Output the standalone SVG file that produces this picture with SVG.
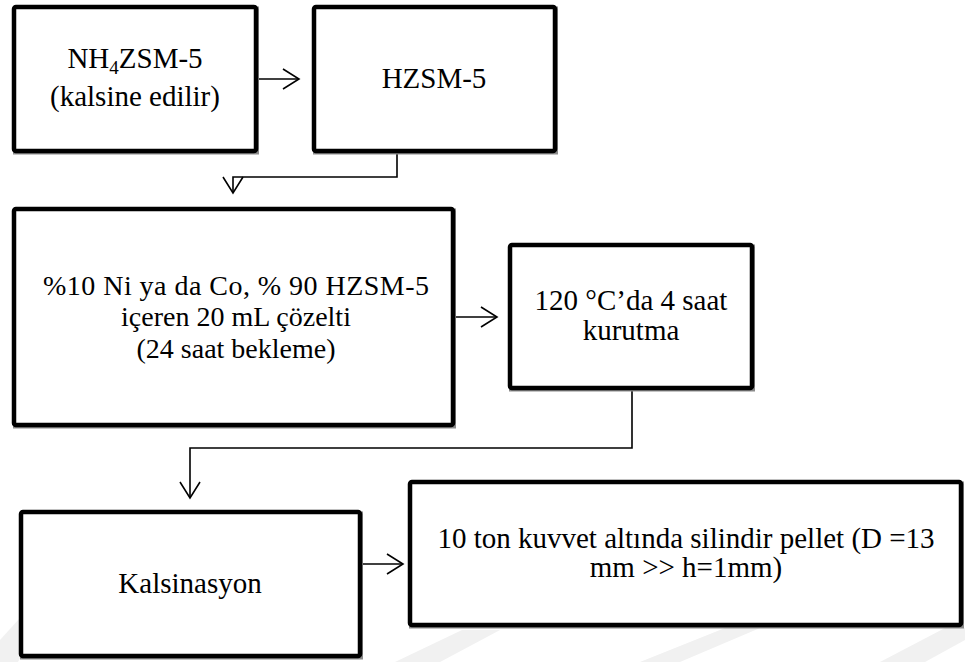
<svg xmlns="http://www.w3.org/2000/svg" width="965" height="662" viewBox="0 0 965 662">
<style>
.box{fill:#fff;stroke:#000;stroke-width:4.5;stroke-linejoin:round}
.shadow{fill:none;stroke:#8a8a8a;stroke-width:4}
.conn{fill:none;stroke:#000;stroke-width:1.6}
.t{font-family:"Liberation Serif","Times New Roman",serif;font-size:29px;fill:#000;text-anchor:middle}
.t3{font-size:28px}
.wm{fill:#f1f1f1}
</style>
<defs>
<marker id="arr" markerUnits="userSpaceOnUse" markerWidth="20" markerHeight="24" refX="17" refY="11" orient="auto">
<path d="M1,1 L17,11 L1,21" fill="none" stroke="#000" stroke-width="1.6"/>
</marker>
</defs>
<rect width="965" height="662" fill="#fff"/>
<g id="watermark">
<polygon class="wm" points="0,640 20,618 40,618 18,662 0,662"/>
<polygon class="wm" points="395,662 440,662 500,630 462,630"/>
<polygon class="wm" points="640,662 680,662 760,628 725,628"/>
<polygon class="wm" points="880,662 925,662 965,640 965,628 945,628"/>
</g>
<g id="connectors">
<path class="conn" d="M258,79 H299" marker-end="url(#arr)"/>
<path class="conn" d="M397,153 V177 H233 V193" marker-end="url(#arr)"/>
<path class="conn" d="M455,317 H497" marker-end="url(#arr)"/>
<path class="conn" d="M632,390 V448 H190 V498" marker-end="url(#arr)"/>
<path class="conn" d="M362,564 H403" marker-end="url(#arr)"/>
</g>
<g id="n1">
<rect class="shadow" x="15" y="8.5" width="242" height="144"/>
<rect class="box" x="14" y="7" width="242" height="144" rx="2"/>
<text class="t" x="135" y="68">NH<tspan font-size="19" dy="6">4</tspan><tspan dy="-6">ZSM-5</tspan></text>
<text class="t" x="135" y="106">(kalsine edilir)</text>
</g>
<g id="n2">
<rect class="shadow" x="315" y="8.5" width="241" height="144"/>
<rect class="box" x="314" y="7" width="241" height="144" rx="2"/>
<text class="t" x="434" y="88">HZSM-5</text>
</g>
<g id="n3">
<rect class="shadow" x="15" y="210.5" width="439" height="216"/>
<rect class="box" x="14" y="209" width="439" height="216" rx="2"/>
<text class="t t3" x="236" y="295" textLength="386" lengthAdjust="spacing">%10 Ni ya da Co, % 90 HZSM-5</text>
<text class="t t3" x="236" y="326">içeren 20 mL çözelti</text>
<text class="t t3" x="236" y="358">(24 saat bekleme)</text>
</g>
<g id="n4">
<rect class="shadow" x="511" y="246.5" width="242" height="143"/>
<rect class="box" x="510" y="245" width="242" height="143" rx="2"/>
<text class="t" x="631" y="310">120 °C’da 4 saat</text>
<text class="t" x="631" y="340">kurutma</text>
</g>
<g id="n5">
<rect class="shadow" x="22" y="513.5" width="339" height="144"/>
<rect class="box" x="21" y="512" width="339" height="144" rx="2"/>
<text class="t" x="190" y="593">Kalsinasyon</text>
</g>
<g id="n6">
<rect class="shadow" x="411" y="483.5" width="551" height="143"/>
<rect class="box" x="410" y="482" width="551" height="143" rx="2"/>
<text class="t" x="686" y="548">10 ton kuvvet altında silindir pellet (D =13</text>
<text class="t" x="686" y="577">mm &gt;&gt; h=1mm)</text>
</g>
</svg>
